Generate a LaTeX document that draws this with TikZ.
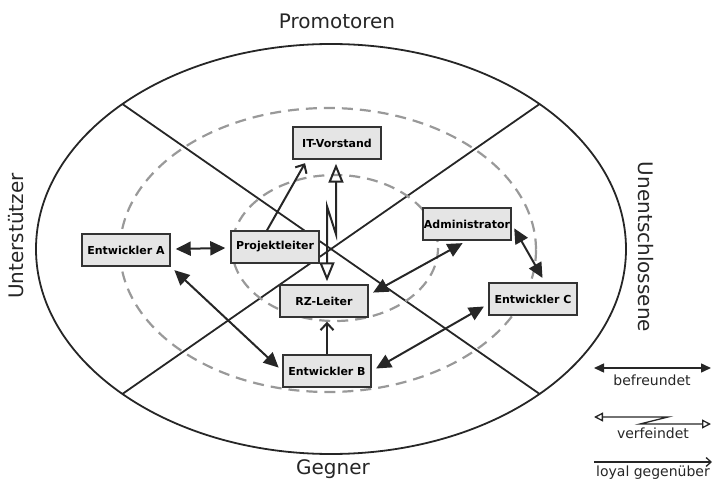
\documentclass[tikz,border=0pt]{standalone}
\usepackage{fontspec}
\setmainfont{DejaVu Sans}
\usetikzlibrary{arrows.meta}

\begin{document}
\begin{tikzpicture}[
	x              = 1pt,
	y              = -1pt,
	rahmen/.style  = {line width=1.8pt, draw=black!85},
	zone/.style    = {line width=2.2pt, draw=black!40, dash pattern=on 11pt off 7pt},
	person/.style  = {draw=black!80, line width=1.4pt, fill=black!10, minimum width=88pt,
	                  minimum height=32pt, inner sep=1pt, font=\bfseries\fontsize{11}{13}\selectfont},
	gruppe/.style  = {font=\fontsize{20}{24}\selectfont, text=black!85},
	legende/.style = {font=\fontsize{14}{16}\selectfont, text=black!85, inner sep=1pt},
	freund/.style  = {line width=2pt, draw=black!85, shorten <=5pt, shorten >=5pt,
	                  {Triangle[length=15pt,width=14pt]}-{Triangle[length=15pt,width=14pt]}},
	feind/.style   = {line width=2pt, draw=black!85, shorten <=3pt, shorten >=4pt,
	                  {Triangle[open,length=19pt,width=15pt]}-{Triangle[open,length=19pt,width=15pt]}},
	loyal/.style   = {line width=2pt, draw=black!85, shorten >=4pt,
	                  -{Straight Barb[length=7pt,width=13pt]}}]
	\useasboundingbox (0,0) rectangle (713,484);
	% Felder
	\draw [rahmen] (331,249) ellipse [x radius=295, y radius=205];
	\draw [rahmen] (331,249) ++(135:295 and 205) -- ++(-45:590 and 410);
	\draw [rahmen] (331,249) ++(45:295 and 205) -- ++(-135:590 and 410);
	\draw [zone] (328,250) ellipse [x radius=208, y radius=142];
	\draw [zone] (335,248) ellipse [x radius=103, y radius=73];
	\node [gruppe] (prom) at (337,21) {Promotoren};
	\node [gruppe] (gegn) at (333,469) {Gegner};
	\node [gruppe, rotate=90] (unter) at (16,236) {Unterstützer};
	\node [gruppe, rotate=-90] (unent) at (646,247) {Unentschlossene};
	% Personen
	\node [person] (itv) at (337,143) {IT-Vorstand};
	\node [person] (pl)  at (275,247) {Projektleiter};
	\node [person] (ea)  at (126,250) {Entwickler A};
	\node [person] (adm) at (467,224) {Administrator};
	\node [person] (ec)  at (533,299) {Entwickler C};
	\node [person] (rz)  at (324,301) {RZ-Leiter};
	\node [person] (eb)  at (327,371) {Entwickler B};
	% Beziehungen
	\draw [freund] (ea) -- (pl);
	\draw [freund] (ea.south east) -- (eb.west);
	\draw [freund] ([yshift=6pt]rz.east) -- (adm.south);
	\draw [freund] (adm.east) -- ([xshift=12pt]ec.north);
	\draw [freund] (eb.east) -- ([yshift=-5pt]ec.west);
	\draw [loyal] ([xshift=-8pt]pl.north) -- ([xshift=-30pt]itv.south);
	\draw [loyal] (eb.north) -- (eb.north |- rz.south);
	\draw [feind] ([xshift=3pt]rz.north) -- ++(0,-78) -- ++(9,28) -- ([xshift=-1pt]itv.south);
	% Legende
	\coordinate (b1) at (594,368);
	\coordinate (b2) at (711,368);
	\draw [freund, line width=1.5pt, shorten <=0pt, shorten >=0pt,
	       {Triangle[length=10pt,width=9pt]}-{Triangle[length=10pt,width=9pt]}] (b1) -- (b2);
	\node [legende] (bl) at (652,380) {befreundet};
	\coordinate (v1) at (594,417);
	\coordinate (v2) at (711,424);
	\draw [feind, line width=1.3pt, shorten <=0pt, shorten >=0pt,
	       {Triangle[open,length=9pt,width=9pt]}-{Triangle[open,length=9pt,width=9pt]}]
	      (v1) -- (668,417) -- (640,424) -- (v2);
	\node [legende] (vl) at (653,433) {verfeindet};
	\coordinate (l1) at (594,462);
	\coordinate (l2) at (712,462);
	\draw [loyal, line width=1.3pt, shorten >=0pt, -{Straight Barb[length=5pt,width=9pt]}] (l1) -- (l2);
	\node [legende] (ll) at (653,473) {loyal gegenüber};
\end{tikzpicture}
\end{document}
